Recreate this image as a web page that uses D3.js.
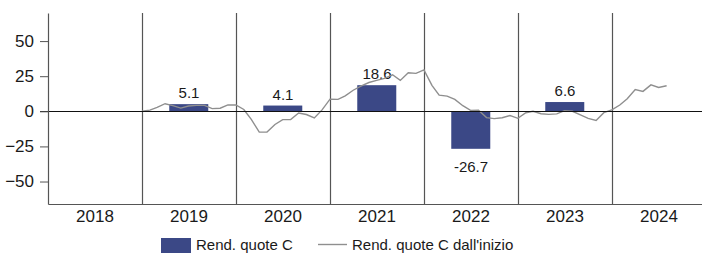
<!DOCTYPE html>
<html>
<head>
<meta charset="utf-8">
<script src="https://cdn.jsdelivr.net/npm/d3@7"></script>
<style>
  body { margin: 0; background: #fff; }
  svg { display: block; font-family: "Liberation Sans", Arial, sans-serif; }
</style>
</head>
<body>
<div id="chart"></div>
<script>
// yearly returns (bars)
const years = ["2018", "2019", "2020", "2021", "2022", "2023", "2024"];
const barYears = ["2019", "2020", "2021", "2022", "2023"];
const barValues = [5.1, 4.1, 18.6, -26.7, 6.6];

// cumulative return since start, month-end values from Jan 2019
const lineStartYear = 2019;
const lineValues = [
  0.8, 2.8, 5.4, 4.0, 2.3, 3.8, 4.2, 4.2, 1.9, 2.2, 4.6, 4.5,
  1.3, -5.8, -14.8, -14.8, -9.4, -5.9, -5.9, -1.2, -2.3, -4.7, 1.0, 8.7,
  8.5, 11.0, 15.0, 18.0, 20.5, 22.0, 23.5, 26.0, 22.0, 27.5, 27.0, 29.5,
  18.5, 11.5, 10.8, 8.5, 4.0, 0.7, 0.8, -4.5, -5.2, -4.6, -3.0, -5.0,
  -1.0, 0.0, -1.7, -2.2, -1.8, 0.5, 0.0, -2.5, -5.0, -6.5, -1.0, 1.0,
  4.5, 9.0, 15.5, 14.2, 18.8, 17.0, 18.2
];
const yTicks = [-50, -25, 0, 25, 50];

const legendLabels = ["Rend. quote C", "Rend. quote C dall'inizio"];

const width = 702, height = 253;
const margin = {top: 13, right: -4, bottom: 49, left: 48};
const barColor = "#3b4886";
const lineColor = "#8f8f8f";
const gridColor = "#555";

const svg = d3.select("#chart").append("svg")
  .attr("width", width)
  .attr("height", height);

const x = d3.scaleBand()
  .domain(years)
  .range([margin.left, width - margin.right])
  .padding(0);

const xTime = d3.scaleTime()
  .domain([new Date(+years[0], 0, 1), new Date(+years[years.length - 1] + 1, 0, 1)])
  .range([margin.left, width - margin.right]);

const y = d3.scaleLinear()
  .domain([-66, 70])
  .range([height - margin.bottom, margin.top]);

// vertical separators between years
svg.append("g")
  .selectAll("line")
  .data(years.slice(1))
  .join("line")
    .attr("x1", d => x(d) + 0.5)
    .attr("x2", d => x(d) + 0.5)
    .attr("y1", margin.top)
    .attr("y2", height - margin.bottom)
    .attr("stroke", gridColor)
    .attr("stroke-width", 1.2);

// bars
svg.append("g")
  .selectAll("rect")
  .data(barYears)
  .join("rect")
    .attr("x", d => x(d) + x.bandwidth() * 0.29)
    .attr("width", x.bandwidth() * 0.415)
    .attr("y", (d, i) => y(Math.max(0, barValues[i])))
    .attr("height", (d, i) => Math.abs(y(barValues[i]) - y(0)))
    .attr("fill", barColor);

// bar labels
svg.append("g")
  .selectAll("text")
  .data(barYears)
  .join("text")
    .attr("x", d => x(d) + x.bandwidth() / 2)
    .attr("y", (d, i) => barValues[i] >= 0 ? y(barValues[i]) - 6 : y(barValues[i]) + 23)
    .attr("text-anchor", "middle")
    .attr("font-size", 15)
    .attr("fill", "#1a1a1a")
    .text((d, i) => barValues[i].toFixed(1));

// cumulative line, starting from 0
const linePoints = [{date: new Date(lineStartYear, 0, 1), value: 0}].concat(
  lineValues.map((v, i) => ({date: new Date(lineStartYear, i + 1, 1), value: v}))
);

svg.append("path")
  .datum(linePoints)
  .attr("fill", "none")
  .attr("stroke", lineColor)
  .attr("stroke-width", 1.4)
  .attr("d", d3.line()
    .x(d => xTime(d.date))
    .y(d => y(d.value)));

// zero line
svg.append("line")
  .attr("x1", margin.left - 8)
  .attr("x2", width)
  .attr("y1", Math.round(y(0)) + 0.5)
  .attr("y2", Math.round(y(0)) + 0.5)
  .attr("stroke", "#111")
  .attr("stroke-width", 1.2);

// y axis
const yAxis = svg.append("g")
  .attr("transform", `translate(${margin.left},0)`)
  .call(d3.axisLeft(y).tickValues(yTicks).tickSize(8).tickSizeOuter(0).tickPadding(6));
yAxis.select(".domain").attr("stroke", gridColor).attr("stroke-width", 1.2);
yAxis.selectAll(".tick line").attr("stroke", gridColor);
yAxis.selectAll("text")
  .attr("font-size", 17)
  .attr("font-family", "Liberation Sans, Arial, sans-serif")
  .attr("fill", "#1a1a1a");

// x axis
const xAxis = svg.append("g")
  .attr("transform", `translate(0,${height - margin.bottom})`)
  .call(d3.axisBottom(x).tickSize(0).tickSizeOuter(0).tickPadding(6));
xAxis.select(".domain").attr("stroke", gridColor).attr("stroke-width", 1.2);
xAxis.selectAll("text")
  .attr("font-size", 17)
  .attr("font-family", "Liberation Sans, Arial, sans-serif")
  .attr("fill", "#1a1a1a");

// legend
const legend = svg.append("g");
legend.append("rect")
  .attr("x", 161).attr("y", 238)
  .attr("width", 30).attr("height", 16)
  .attr("fill", barColor);
legend.append("text")
  .attr("x", 196).attr("y", 250)
  .attr("font-size", 15).attr("fill", "#1a1a1a")
  .text(legendLabels[0]);
legend.append("line")
  .attr("x1", 318).attr("x2", 347)
  .attr("y1", 244.5).attr("y2", 244.5)
  .attr("stroke", lineColor).attr("stroke-width", 1.4);
legend.append("text")
  .attr("x", 352).attr("y", 250)
  .attr("font-size", 15).attr("fill", "#1a1a1a")
  .text(legendLabels[1]);
</script>
</body>
</html>
